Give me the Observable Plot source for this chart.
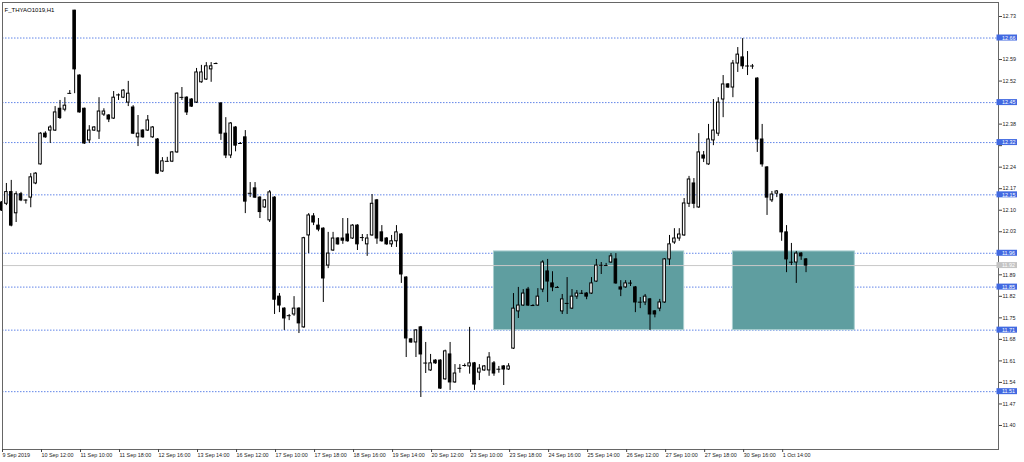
<!DOCTYPE html>
<html><head><meta charset="utf-8">
<script src="https://cdn.jsdelivr.net/npm/d3@7"></script>
<script src="https://cdn.jsdelivr.net/npm/@observablehq/plot@0.6"></script>
<style>html,body{margin:0;padding:0;background:#fff;overflow:hidden}</style>
</head><body><div id="chart"></div>
<script>
const chartTitle = "F_THYAO1019,H1";

const openPrices = [
12.125,12.121,12.159,12.090,12.152,12.132,12.141,12.187,12.249,12.349,
12.359,12.359,12.430,12.427,12.479,12.749,12.538,12.430,12.327,12.359,
12.356,12.411,12.408,12.398,12.476,12.466,12.450,12.434,12.337,12.359,
12.359,12.337,12.330,12.226,12.258,12.258,12.288,12.466,12.466,12.460,
12.450,12.516,12.525,12.558,12.577,12.447,12.349,12.278,12.369,12.317,
12.337,12.154,12.171,12.141,12.109,12.067,12.141,11.819,11.780,11.758,
11.761,11.780,11.719,12.018,12.080,12.050,12.040,11.920,11.969,12.008,
12.008,12.021,12.008,12.050,12.011,11.989,12.018,12.132,12.028,12.008,
11.989,11.999,12.021,11.881,11.680,11.670,11.719,11.602,11.579,11.611,
11.611,11.550,11.631,11.540,11.585,11.595,11.592,11.602,11.572,11.579,
11.579,11.602,11.582,11.592,11.582,11.650,11.771,11.790,11.842,11.790,
11.790,11.842,11.901,11.862,11.849,11.771,11.797,11.780,11.819,11.829,
11.829,11.829,11.868,11.920,11.920,11.930,11.940,11.849,11.849,11.862,
11.849,11.800,11.800,11.810,11.771,11.780,11.800,11.940,11.995,12.008,
12.018,12.121,12.187,12.109,12.278,12.249,12.327,12.349,12.460,12.509,
12.499,12.577,12.597,12.568,12.568,12.528,12.330,12.239,12.132,12.154,
12.151,12.028,11.930,11.930,11.959,11.940];

const highPrices = [
12.128,12.187,12.197,12.160,12.158,12.134,12.219,12.222,12.352,12.355,
12.375,12.437,12.457,12.466,12.489,12.750,12.540,12.432,12.375,12.372,
12.466,12.430,12.411,12.486,12.478,12.492,12.519,12.440,12.408,12.362,
12.408,12.372,12.333,12.271,12.272,12.291,12.482,12.499,12.469,12.463,
12.561,12.571,12.580,12.580,12.579,12.450,12.401,12.385,12.372,12.320,
12.359,12.190,12.190,12.144,12.135,12.164,12.144,11.829,11.783,11.761,
11.819,11.783,12.012,12.089,12.089,12.073,12.043,12.028,12.028,12.011,
12.073,12.073,12.053,12.053,12.021,12.021,12.151,12.135,12.050,12.011,
12.018,12.050,12.024,11.884,11.683,11.712,11.722,11.670,11.631,11.614,
11.614,11.645,11.670,11.598,11.598,11.600,11.719,11.605,11.598,11.595,
11.637,11.608,11.592,11.595,11.601,11.829,11.849,11.842,11.849,11.793,
11.845,11.936,11.940,11.900,11.852,11.826,11.881,11.842,11.839,11.839,
11.832,11.881,11.940,11.930,11.927,11.959,11.959,11.871,11.871,11.871,
11.852,11.816,11.826,11.813,11.774,11.810,11.943,12.018,12.040,12.040,
12.138,12.210,12.203,12.349,12.291,12.379,12.460,12.466,12.538,12.512,
12.587,12.629,12.658,12.616,12.574,12.531,12.379,12.242,12.161,12.164,
12.154,12.050,11.992,11.966,11.962,11.943];

const lowPrices = [
12.096,12.115,12.046,12.060,12.128,12.120,12.108,12.183,12.247,12.334,
12.317,12.356,12.395,12.420,12.478,12.479,12.416,12.314,12.317,12.356,
12.330,12.405,12.385,12.395,12.457,12.463,12.437,12.346,12.307,12.334,
12.356,12.334,12.216,12.223,12.257,12.255,12.285,12.457,12.408,12.434,
12.447,12.513,12.522,12.516,12.575,12.327,12.268,12.268,12.290,12.315,
12.089,12.141,12.138,12.073,12.106,12.060,11.761,11.767,11.709,11.741,
11.755,11.699,11.716,11.959,12.050,12.030,11.800,11.910,11.966,11.986,
11.989,11.996,12.005,11.969,11.998,11.950,12.015,11.989,11.996,11.986,
11.979,11.979,11.862,11.621,11.667,11.621,11.491,11.569,11.576,11.599,
11.517,11.547,11.514,11.537,11.570,11.590,11.567,11.514,11.546,11.576,
11.560,11.560,11.570,11.530,11.579,11.647,11.748,11.787,11.787,11.787,
11.787,11.832,11.800,11.835,11.846,11.761,11.761,11.777,11.810,11.826,
11.809,11.826,11.865,11.891,11.917,11.927,11.859,11.819,11.846,11.852,
11.767,11.780,11.790,11.709,11.750,11.770,11.797,11.920,11.989,11.999,
12.015,12.109,12.105,12.106,12.255,12.246,12.310,12.340,12.401,12.496,
12.466,12.548,12.558,12.538,12.558,12.288,12.240,12.083,12.125,12.141,
11.999,11.897,11.920,11.862,11.937,11.897];

const closePrices = [
12.099,12.159,12.050,12.152,12.132,12.133,12.207,12.219,12.349,12.337,
12.369,12.418,12.400,12.440,12.480,12.558,12.418,12.317,12.359,12.369,
12.421,12.421,12.395,12.466,12.475,12.489,12.479,12.349,12.349,12.337,
12.392,12.369,12.219,12.259,12.259,12.288,12.479,12.467,12.418,12.437,
12.548,12.548,12.568,12.568,12.577,12.349,12.278,12.382,12.310,12.317,
12.128,12.155,12.141,12.094,12.132,12.158,11.809,11.790,11.748,11.757,
11.780,11.732,12.009,12.083,12.060,12.037,11.878,11.959,12.008,11.989,
12.001,11.999,12.050,11.989,12.011,12.008,12.121,12.008,11.999,11.989,
11.999,12.028,11.891,11.683,11.670,11.709,11.631,11.603,11.602,11.602,
11.520,11.641,11.540,11.569,11.586,11.595,11.602,11.533,11.585,11.592,
11.621,11.569,11.583,11.582,11.592,11.780,11.790,11.829,11.790,11.790,
11.819,11.930,11.868,11.849,11.849,11.810,11.797,11.819,11.829,11.830,
11.819,11.862,11.920,11.921,11.920,11.950,11.862,11.842,11.862,11.863,
11.800,11.801,11.819,11.761,11.761,11.800,11.940,11.989,12.008,12.021,
12.122,12.200,12.121,12.288,12.268,12.330,12.359,12.450,12.509,12.499,
12.577,12.606,12.568,12.569,12.569,12.330,12.249,12.141,12.151,12.161,
12.028,11.940,11.931,11.959,11.950,11.920];

const xTickBars = [0,8,16,24,32,40,48,56,64,72,80,88,96,104,112,120,128,136,144,152,160];
const xTickLabels = ["9 Sep 2019","10 Sep 12:00","11 Sep 10:00","11 Sep 18:00","12 Sep 16:00",
  "13 Sep 14:00","16 Sep 12:00","17 Sep 10:00","17 Sep 18:00","18 Sep 16:00","19 Sep 14:00",
  "20 Sep 12:00","23 Sep 10:00","23 Sep 18:00","24 Sep 16:00","25 Sep 14:00","26 Sep 12:00",
  "27 Sep 10:00","27 Sep 18:00","30 Sep 16:00","1 Oct 14:00"];

const yTicks = [12.73,12.66,12.59,12.52,12.45,12.38,12.31,12.24,12.17,12.10,12.03,
  11.96,11.89,11.82,11.75,11.68,11.61,11.54,11.47,11.40];

const levels = [12.66,12.45,12.32,12.15,11.96,11.85,11.71,11.51];

const zoneStart = [101,150];
const zoneEnd = [140,175];
const zoneTop = [11.966,11.966];
const zoneBottom = [11.71,11.71];

// ---- build tables ----
const bars = openPrices.map((o, i) => ({i, open: o, high: highPrices[i], low: lowPrices[i], close: closePrices[i]}));
const bodies = bars.filter(d => Math.abs(d.close - d.open) >= 0.004);
const dojis = bars.filter(d => Math.abs(d.close - d.open) < 0.004);
const zones = zoneStart.map((s, k) => ({x1: s, x2: zoneEnd[k], y1: zoneBottom[k], y2: zoneTop[k]}));
const labelOf = new Map(xTickBars.map((b, k) => [b, xTickLabels[k]]));
const lastClose = closePrices[closePrices.length - 1];
const boxed = levels.concat([lastClose]);
const xDomain = [0.205, 204.47];
const fmt = d3.format(".2f");
// tick labels hidden under a price box in the original
const yTickFormat = d => boxed.some(v => Math.abs(v - d) < 0.0155) ? "" : fmt(d);
const FS = 5.4;

const chart = Plot.plot({
  width: 1024, height: 462,
  marginLeft: 2, marginRight: 26, marginTop: 2, marginBottom: 13,
  style: {fontFamily: "'Liberation Sans', Arial, sans-serif", background: "#fff", overflow: "visible"},
  x: {type: "linear", domain: xDomain},
  y: {type: "linear", domain: [11.3219, 12.7755]},
  marks: [
    Plot.ruleY(levels, {y: d => d, stroke: "#5078e6", strokeOpacity: 0.9, strokeDasharray: "1.5,1.5", strokeWidth: 1}),
    Plot.rect(zones, {x1: "x1", x2: "x2", y1: "y1", y2: "y2", fill: "#5f9ea0", stroke: "#a9cfd0", strokeWidth: 1}),
    Plot.ruleY([lastClose], {y: d => d, stroke: "#c8c8c8", strokeWidth: 1}),
    Plot.ruleX(bars, {x: "i", y1: "low", y2: "high", stroke: "#000", strokeWidth: 1}),
    Plot.rect(bodies, {x1: d => d.i - 0.26, x2: d => d.i + 0.26, y1: "open", y2: "close",
      fill: d => d.close > d.open ? "#fff" : "#000", stroke: "#000", strokeWidth: 1}),
    Plot.ruleY(dojis, {y: "close", x1: d => d.i - 0.4, x2: d => d.i + 0.4, stroke: "#000", strokeWidth: 1}),
    Plot.frame({stroke: "#666"}),
    Plot.axisX({ticks: xTickBars, tickFormat: d => labelOf.get(d), tickSize: 3, tickPadding: 0.5,
      textAnchor: "start", dx: 1, fontSize: FS, stroke: "#444", fill: "#222"}),
    Plot.axisY({anchor: "right", ticks: yTicks, tickFormat: yTickFormat, tickSize: 3, tickPadding: 1,
      fontSize: FS, stroke: "#444", fill: "#222"}),
    Plot.rect(levels, {x1: xDomain[1], x2: xDomain[1], y1: d => d, y2: d => d,
      insetLeft: -1.5, insetRight: -19, insetTop: -3, insetBottom: -3, fill: "#4169e1"}),
    Plot.text(levels, {x: xDomain[1], y: d => d, text: fmt, dx: 3.5, textAnchor: "start",
      fill: "#fff", fontSize: FS}),
    Plot.rect([lastClose], {x1: xDomain[1], x2: xDomain[1], y1: d => d, y2: d => d,
      insetLeft: -1.5, insetRight: -19, insetTop: -3, insetBottom: -3, fill: "#c4c4c4"}),
    Plot.text([lastClose], {x: xDomain[1], y: d => d, text: fmt, dx: 3.5, textAnchor: "start",
      fill: "#fff", fontSize: FS}),
    Plot.text([chartTitle], {frameAnchor: "top-left", dx: 2, dy: 5, textAnchor: "start",
      fill: "#000", fontSize: 6})
  ]
});
document.getElementById("chart").appendChild(chart);
</script>
</body></html>
